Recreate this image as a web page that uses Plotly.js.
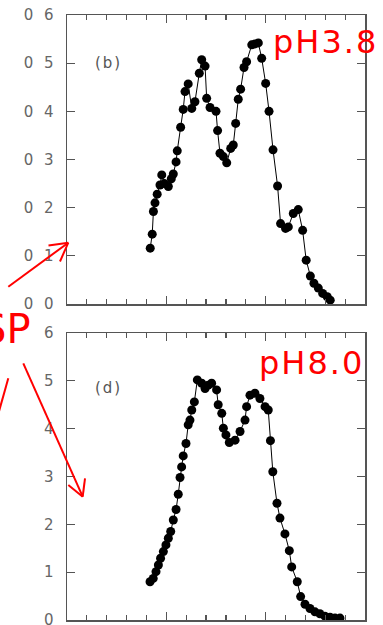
<!DOCTYPE html>
<html>
<head>
<meta charset="utf-8">
<script src="https://cdn.plot.ly/plotly-3.0.1.min.js"></script>
<style>
html,body{margin:0;padding:0;background:#fff;}
#chart{width:383px;height:625px;}
.ytick text,.y2tick text{letter-spacing:3px;}
.annotation-text{letter-spacing:2px;}
g.annotation[data-index="4"] .annotation-text{letter-spacing:0;}
</style>
</head>
<body>
<div id="chart"></div>
<script>
// Panel (b): pH 3.8
const topX = [4.19,4.29,4.35,4.43,4.54,4.68,4.77,4.9,5.1,5.25,5.35,5.49,5.55,5.72,5.85,5.94,6.1,6.28,6.44,6.66,6.78,6.95,7.03,7.2,7.5,7.58,7.7,7.87,8.04,8.24,8.37,8.49,8.62,8.74,8.91,9.04,9.3,9.46,9.63,9.8,10.0,10.17,10.37,10.6,10.75,11.0,11.14,11.39,11.64,11.86,12.04,12.25,12.43,12.65,12.87,13.1,13.25];
const topY = [0.116,0.145,0.192,0.21,0.228,0.247,0.268,0.25,0.244,0.26,0.27,0.295,0.318,0.367,0.404,0.441,0.457,0.406,0.42,0.479,0.507,0.494,0.427,0.408,0.40,0.36,0.313,0.306,0.293,0.323,0.33,0.375,0.425,0.446,0.491,0.503,0.538,0.54,0.542,0.51,0.458,0.40,0.32,0.245,0.167,0.157,0.16,0.188,0.196,0.153,0.091,0.058,0.043,0.033,0.022,0.015,0.008];

// Panel (d): pH 8.0
const botX = [4.18,4.34,4.48,4.6,4.71,4.85,4.98,5.1,5.22,5.35,5.49,5.6,5.69,5.77,5.85,5.99,6.1,6.19,6.28,6.41,6.56,6.78,6.95,7.11,7.28,7.53,7.61,7.79,7.87,8.0,8.17,8.46,8.71,8.96,9.04,9.21,9.46,9.71,9.97,10.13,10.24,10.36,10.57,10.72,10.97,11.19,11.31,11.59,11.76,11.98,12.23,12.48,12.73,12.98,13.24,13.49,13.74];
const botY = [0.80,0.87,1.01,1.15,1.29,1.43,1.57,1.71,1.85,2.09,2.31,2.63,2.98,3.2,3.43,3.69,4.08,4.18,4.39,4.56,5.02,4.95,4.84,4.91,4.95,4.81,4.5,4.32,4.01,3.87,3.71,3.76,3.94,4.18,4.46,4.70,4.74,4.63,4.46,4.39,3.75,3.1,2.44,2.13,1.8,1.45,1.11,0.80,0.49,0.33,0.24,0.17,0.13,0.08,0.06,0.04,0.04];

const topTickVals = [0,0.1,0.2,0.3,0.4,0.5,0.6];
const topTickText = ['0 0','0 1','0 2','0 3','0 4','0 5','0 6'];
const botTickVals = [0,1,2,3,4,5,6];
const botTickText = ['0','1','2','3','4','5','6'];

const panelLabels = ['(b)','(d)'];
const phLabels = ['pH3.8','pH8.0'];
const spLabel = 'SP';

// layout geometry (pixels)
const W = 383, H = 625, ML = 67, MR = 18, MT = 15, MB = 5;
const PW = W - ML - MR, PH = H - MT - MB;
const px = v => (v - ML) / PW;
const py = v => (H - MB - v) / PH;

const axCol = '#555';
const marker = {color:'#000', size:9, line:{width:0}};
const line = {color:'#000', width:1};

const traces = [
  {x:topX, y:topY, xaxis:'x', yaxis:'y', mode:'lines+markers', marker:marker, line:line, hoverinfo:'skip'},
  {x:botX, y:botY, xaxis:'x2', yaxis:'y2', mode:'lines+markers', marker:marker, line:line, hoverinfo:'skip'}
];

function xAx(anchor){
  return {domain:[0,1], range:[0,15], anchor:anchor, showticklabels:false,
    ticks:'inside', ticklen:8, tickwidth:1.2, tickcolor:axCol, tick0:0, dtick:5,
    minor:{dtick:1, ticks:'inside', ticklen:5, tickwidth:1.2, tickcolor:axCol},
    showline:true, linecolor:axCol, linewidth:1.5, mirror:'ticks',
    showgrid:false, zeroline:false, fixedrange:true};
}
function yAx(anchor, dom, rng, vals, txt){
  return {domain:dom, range:rng, anchor:anchor, tickmode:'array', tickvals:vals, ticktext:txt,
    ticks:'inside', ticklen:8, tickwidth:1.2, tickcolor:axCol,
    tickfont:{family:'DejaVu Sans', size:15, color:'#666'}, ticklabelstandoff:6,
    ticklabeloverflow:'allow',
    showline:true, linecolor:axCol, linewidth:1.5, mirror:'ticks',
    showgrid:false, zeroline:false, fixedrange:true};
}

const red = '#ff0000';
function seg(x0,y0,x1,y1){
  return {type:'line', xref:'paper', yref:'paper', x0:px(x0), y0:py(y0), x1:px(x1), y1:py(y1),
    line:{color:red, width:2}, layer:'above'};
}

const layout = {
  width:W, height:H,
  margin:{l:ML, r:MR, t:MT, b:MB, pad:0},
  paper_bgcolor:'#fff', plot_bgcolor:'#fff',
  showlegend:false,
  xaxis:xAx('y'),
  yaxis:yAx('x', [py(304), 1], [0,0.6], topTickVals, topTickText),
  xaxis2:xAx('y2'),
  yaxis2:yAx('x2', [0, py(333)], [0,6], botTickVals, botTickText),
  annotations:[
    {text:panelLabels[0], xref:'paper', yref:'paper', x:px(108), y:py(63), xanchor:'center', yanchor:'middle',
     showarrow:false, font:{family:'DejaVu Sans', size:15, color:'#555'}},
    {text:panelLabels[1], xref:'paper', yref:'paper', x:px(108), y:py(388), xanchor:'center', yanchor:'middle',
     showarrow:false, font:{family:'DejaVu Sans', size:15, color:'#555'}},
    {text:phLabels[0], xref:'paper', yref:'paper', x:px(325), y:py(42), xanchor:'center', yanchor:'middle',
     showarrow:false, font:{family:'DejaVu Sans', size:32, color:red}},
    {text:phLabels[1], xref:'paper', yref:'paper', x:px(311), y:py(363), xanchor:'center', yanchor:'middle',
     showarrow:false, font:{family:'DejaVu Sans', size:32, color:red}},
    {text:spLabel, xref:'paper', yref:'paper', x:px(-23), y:py(329), xanchor:'left', yanchor:'middle',
     showarrow:false, font:{family:'DejaVu Sans', size:40, color:red}}
  ],
  shapes:[
    seg(8.3,286.7,68.3,242.7), seg(48.5,245.5,68.3,242.7), seg(60,261.5,68.3,242.7),
    seg(23.3,363.3,82.7,496.7), seg(68.3,485,82.7,496.7), seg(85,478.3,82.7,496.7),
    seg(8.3,378.3,-4,422)
  ]
};

Plotly.newPlot('chart', traces, layout, {staticPlot:true, displayModeBar:false});
</script>
</body>
</html>
